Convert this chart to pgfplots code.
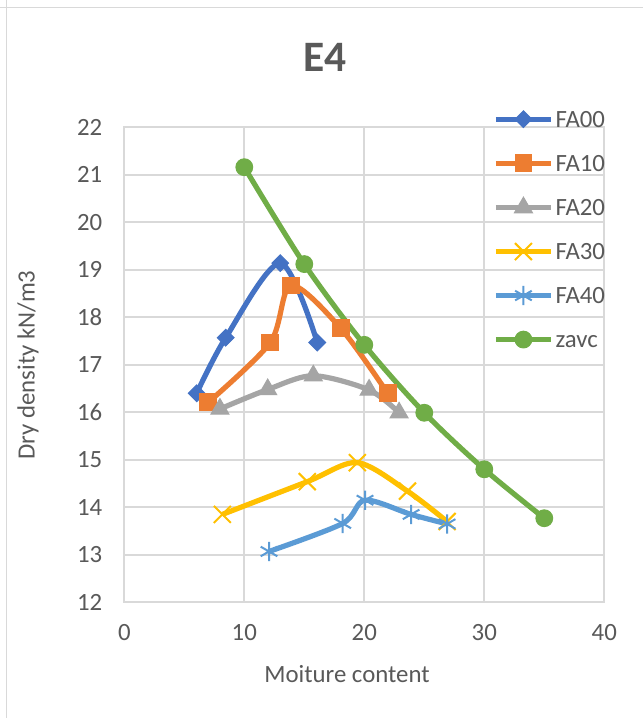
\documentclass[border=0pt]{standalone}
\usepackage{pgfplots}
\pgfplotsset{compat=1.18}
\usepackage{fontspec}
\setmainfont{Carlito}
\definecolor{txt}{HTML}{595959}
\definecolor{gridc}{HTML}{D9D9D9}
\definecolor{cA}{HTML}{4472C4}
\definecolor{cB}{HTML}{ED7D31}
\definecolor{cC}{HTML}{A5A5A5}
\definecolor{cD}{HTML}{FFC000}
\definecolor{cE}{HTML}{5B9BD5}
\definecolor{cF}{HTML}{70AD47}
\begin{document}
\begin{tikzpicture}
\fill[white] (0,0) rectangle (321.5pt,359pt);
\path[use as bounding box] (0,0) rectangle (321.5pt,359pt);
\draw[gridc, line width=0.8pt] (3.25pt,0) -- (3.25pt,359pt);
\draw[gridc, line width=0.8pt] (0,355.25pt) -- (321.5pt,355.25pt);
\begin{axis}[
  at={(62.15pt,57.85pt)}, anchor=south west,
  scale only axis, width=240pt, height=237.5pt,
  xmin=0, xmax=40, ymin=12, ymax=22,
  xtick={0,10,...,40}, ytick={12,13,...,22},
  grid=major, major grid style={gridc, line width=0.9pt},
  axis line style={gridc, line width=0.9pt},
  major tick length=0pt,
  tick label style={font=\fontsize{12.4}{14}\selectfont, text=txt},
  /pgf/number format/assume math mode=true,
  yticklabel style={xshift=-7.5pt},
  xticklabel style={yshift=-7.5pt},
  legend style={at={(rel axis cs:0.768,1.039)}, anchor=north west,
    draw=none, fill=none, inner sep=0pt, row sep=12pt,
    font=\fontsize{12.4}{14}\selectfont, text=txt,
    nodes={inner sep=1pt, text height=8pt, text depth=0pt}},
  legend cell align=left,
  legend image code/.code={\draw[mark repeat=2,mark phase=2,#1] plot coordinates {(0pt,0pt) (13.75pt,0pt) (27.5pt,0pt)};},
  every axis plot/.append style={line width=2.6pt, smooth},
]
\addplot[cA, mark=square*, mark size=2.95pt, mark options={rotate=45, fill=cA, line width=0.5pt}]
 coordinates {(6.03,16.40) (8.45,17.57) (13.0,19.14) (16.08,17.47)};
\addlegendentry{FA00}
\addplot[cB, mark=square*, mark size=4.2pt, mark options={fill=cB, line width=0.5pt}]
 coordinates {(7.0,16.21) (12.17,17.47) (13.9,18.67) (18.03,17.77) (21.95,16.40)};
\addlegendentry{FA10}
\addplot[cC, mark=triangle*, mark size=5.2pt, mark options={fill=cC, line width=0.5pt}]
 coordinates {(7.97,16.07) (11.95,16.48) (15.75,16.77) (20.4,16.47) (22.9,15.99)};
\addlegendentry{FA20}
\addplot[cD, mark=x, mark size=6pt, mark options={line width=1pt}]
 coordinates {(8.17,13.85) (15.25,14.54) (19.42,14.94) (23.6,14.34) (26.9,13.70)};
\addlegendentry{FA30}
\addplot[cE, mark=asterisk, mark size=4.8pt, mark options={line width=1pt}]
 coordinates {(12.06,13.07) (18.2,13.66) (20.06,14.15) (23.9,13.85) (26.9,13.65)};
\addlegendentry{FA40}
\addplot[cF, mark=*, mark size=4.2pt, mark options={fill=cF, line width=0.5pt}]
 coordinates {(10,21.16) (15,19.12) (20,17.42) (25,15.99) (30,14.80) (35,13.77)};
\addlegendentry{zavc}
\end{axis}
\node[text=txt, font=\fontsize{21.7}{24}\selectfont\bfseries] at (162.5pt,330.5pt) {E4};
\node[text=txt, font=\fontsize{12.4}{14}\selectfont] at (173.5pt,21.75pt) {Moiture content};
\node[text=txt, font=\fontsize{12.4}{14}\selectfont, rotate=90] at (14pt,176.5pt) {Dry density kN/m3};
\end{tikzpicture}
\end{document}
